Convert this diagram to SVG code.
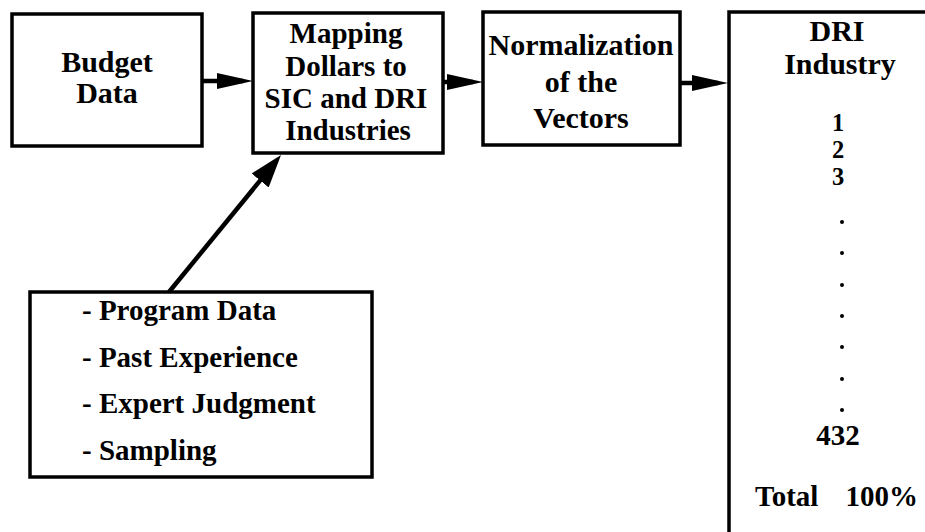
<svg xmlns="http://www.w3.org/2000/svg" width="925" height="532" viewBox="0 0 925 532">
<style>
.box{fill:none;stroke:#000;stroke-width:3.5}
.t{font-family:"Liberation Serif","Times New Roman",serif;font-weight:bold;font-size:29px;fill:#000}
.l{font-size:30px}
.d{font-size:24.5px}
.c{text-anchor:middle}
.conn{stroke:#000;stroke-width:4.5;fill:none}
</style>
<defs>
<marker id="ah" markerUnits="userSpaceOnUse" viewBox="0 0 36 16" refX="26" refY="8" markerWidth="36" markerHeight="16" orient="auto">
<path d="M0,0 L36,8 L0,16 Z" fill="#000"/>
</marker>
<marker id="ahd" markerUnits="userSpaceOnUse" viewBox="0 0 33 22" refX="23" refY="11" markerWidth="33" markerHeight="22" orient="auto">
<path d="M0,0 L33,11 L0,22 Z" fill="#000"/>
</marker>
</defs>
<rect width="925" height="532" fill="#fff"/>
<g id="budget">
<rect class="box" x="12" y="14" width="190" height="132"/>
<text class="t l c" x="107" y="72">Budget</text>
<text class="t l c" x="107" y="103">Data</text>
</g>
<g id="mapping">
<rect class="box" x="253" y="13" width="190" height="140"/>
<text class="t c" x="346" y="43">Mapping</text>
<text class="t c" x="346" y="76">Dollars to</text>
<text class="t c" x="346" y="108">SIC and DRI</text>
<text class="t c" x="348" y="140">Industries</text>
</g>
<g id="normalization">
<rect class="box" x="483" y="12" width="197" height="133"/>
<text class="t l c" x="581" y="55">Normalization</text>
<text class="t l c" x="581" y="92">of the</text>
<text class="t l c" x="581" y="128">Vectors</text>
</g>
<g id="dri">
<rect class="box" x="729" y="12" width="220" height="540"/>
<text class="t l c" x="837" y="41">DRI</text>
<text class="t l c" x="840" y="74">Industry</text>
<text class="t d c" x="838" y="131">1</text>
<text class="t d c" x="838" y="158">2</text>
<text class="t d c" x="838" y="185">3</text>
<circle cx="842" cy="222" r="2"/>
<circle cx="842" cy="253" r="2"/>
<circle cx="842" cy="285" r="2"/>
<circle cx="842" cy="316" r="2"/>
<circle cx="842" cy="347" r="2"/>
<circle cx="842" cy="379" r="2"/>
<circle cx="842" cy="410" r="2"/>
<text class="t c" x="838" y="445">432</text>
<text class="t" x="755" y="506">Total</text>
<text class="t" x="918" y="506" text-anchor="end">100%</text>
</g>
<g id="sources">
<rect class="box" x="30" y="292" width="342" height="185"/>
<text class="t" x="82" y="320">- Program Data</text>
<text class="t" x="82" y="367">- Past Experience</text>
<text class="t" x="82" y="413">- Expert Judgment</text>
<text class="t" x="82" y="460">- Sampling</text>
</g>
<g id="connectors">
<line class="conn" x1="202" y1="81" x2="243" y2="81" marker-end="url(#ah)"/>
<line class="conn" x1="443" y1="82" x2="473" y2="82" marker-end="url(#ah)"/>
<line class="conn" x1="680" y1="83" x2="718" y2="83" marker-end="url(#ah)"/>
<line class="conn" stroke-width="5" x1="169" y1="292" x2="274.7" y2="162.7" marker-end="url(#ahd)"/>
</g>
</svg>
